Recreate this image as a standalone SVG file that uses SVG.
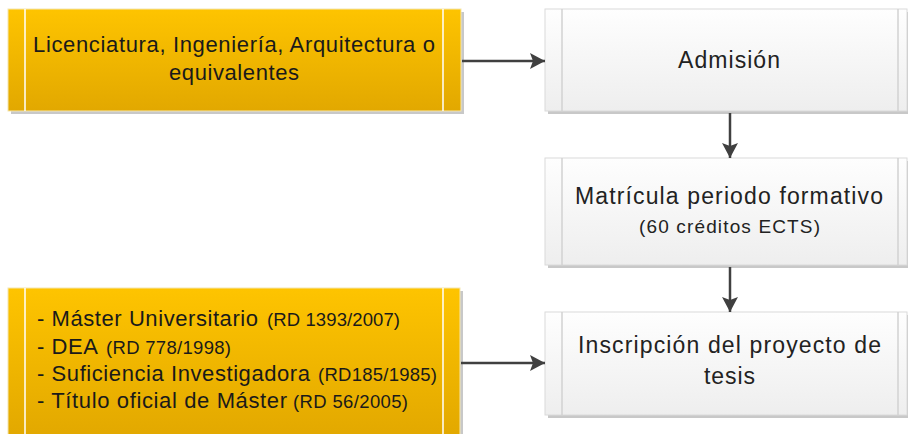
<svg xmlns="http://www.w3.org/2000/svg" width="908" height="434" viewBox="0 0 908 434">
<defs>
<linearGradient id="gy" x1="0" y1="0" x2="0" y2="1"><stop offset="0" stop-color="#FEC400"/><stop offset="1" stop-color="#E2A800"/></linearGradient>
<linearGradient id="gg" x1="0" y1="0" x2="0" y2="1"><stop offset="0" stop-color="#FEFEFE"/><stop offset="1" stop-color="#EEEEEE"/></linearGradient>
<marker id="ah" markerUnits="userSpaceOnUse" markerWidth="16" markerHeight="18" refX="15" refY="9" orient="auto"><path d="M0,1 L15,9 L0,17 L3,9 Z" fill="#404040"/></marker>
</defs>
<style>
.sh{fill:#C8C8C8}
.yb{fill:url(#gy);stroke:#F4E6B0;stroke-width:1}
.gb{fill:url(#gg);stroke:#DADADA;stroke-width:1}
.wl{stroke:#FFFFFF;stroke-width:1.5}
.gl{stroke:#D2D2D2;stroke-width:1.5}
.t{font-family:"Liberation Sans",Arial,sans-serif;font-size:22px;fill:#1a1a1a}
.g{font-size:23px;fill:#222222}
.s{font-size:18.5px}
.m{text-anchor:middle}
.c{stroke:#404040;stroke-width:2.5;fill:none}
</style>
<g id="n1">
<rect class="sh" x="11" y="12" width="453" height="102"/>
<rect class="yb" x="8" y="9" width="453" height="102"/>
<line class="wl" x1="25" y1="9" x2="25" y2="111"/>
<line class="wl" x1="443" y1="9" x2="443" y2="111"/>
<text class="t m" x="234" y="52" textLength="402">Licenciatura, Ingeniería, Arquitectura o</text>
<text class="t m" x="234" y="80" textLength="130">equivalentes</text>
</g>
<g id="n2">
<rect class="sh" x="11" y="291" width="452" height="146"/>
<rect class="yb" x="8" y="288" width="452" height="150"/>
<line class="wl" x1="25" y1="288" x2="25" y2="434"/>
<line class="wl" x1="443" y1="288" x2="443" y2="434"/>
<text class="t" x="37" y="326" textLength="221">- Máster Universitario</text>
<text class="t s" x="267" y="326" textLength="133">(RD 1393/2007)</text>
<text class="t" x="37" y="354" textLength="61">- DEA</text>
<text class="t s" x="106" y="354" textLength="125">(RD 778/1998)</text>
<text class="t" x="37" y="381" textLength="273">- Suficiencia Investigadora</text>
<text class="t s" x="318" y="381" textLength="119">(RD185/1985)</text>
<text class="t" x="37" y="408" textLength="250">- Título oficial de Máster</text>
<text class="t s" x="293" y="408" textLength="115">(RD 56/2005)</text>
</g>
<g id="n3">
<rect class="sh" x="548" y="12" width="360" height="102"/>
<rect class="gb" x="545" y="9" width="362" height="102"/>
<line class="gl" x1="562" y1="9" x2="562" y2="111"/>
<line class="gl" x1="898" y1="9" x2="898" y2="111"/>
<text class="t g m" x="729" y="68" textLength="102">Admisión</text>
</g>
<g id="n4">
<rect class="sh" x="548" y="161" width="360" height="107"/>
<rect class="gb" x="545" y="158" width="362" height="107"/>
<line class="gl" x1="562" y1="158" x2="562" y2="265"/>
<line class="gl" x1="898" y1="158" x2="898" y2="265"/>
<text class="t g m" x="729" y="204" textLength="308">Matrícula periodo formativo</text>
<text class="t m" x="729.5" y="233" textLength="181" style="font-size:19px;fill:#222222">(60 créditos ECTS)</text>
</g>
<g id="n5">
<rect class="sh" x="548" y="315" width="360" height="103"/>
<rect class="gb" x="545" y="312" width="362" height="103"/>
<line class="gl" x1="562" y1="312" x2="562" y2="415"/>
<line class="gl" x1="898" y1="312" x2="898" y2="415"/>
<text class="t g m" x="729.5" y="353" textLength="303">Inscripción del proyecto de</text>
<text class="t g m" x="729.5" y="384" textLength="51">tesis</text>
</g>
<g id="connectors">
<line class="c" x1="462" y1="61" x2="545" y2="61" marker-end="url(#ah)"/>
<line class="c" x1="730" y1="113" x2="730" y2="158" marker-end="url(#ah)"/>
<line class="c" x1="730" y1="267" x2="730" y2="312" marker-end="url(#ah)"/>
<line class="c" x1="461" y1="363" x2="545" y2="363" marker-end="url(#ah)"/>
</g>
</svg>
